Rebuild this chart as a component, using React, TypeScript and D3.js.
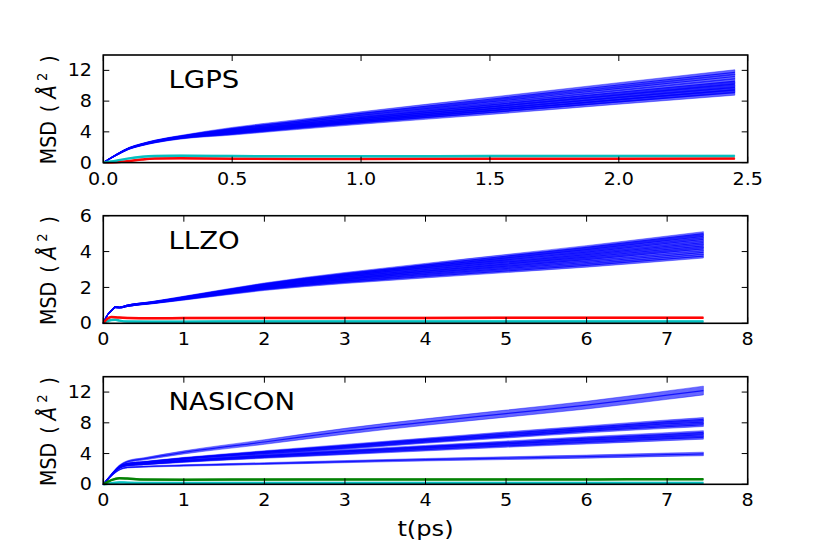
import * as d3 from 'd3';
import React from 'react';

const W = 830;
const H = 554;
const FONT = "'DejaVu Sans', sans-serif";
// the reference was rendered at 800x600 and resized to 830x554, so glyphs are wider than tall
const STRETCH = 1.124;

// ---- LGPS (t up to 2.45 ps) ----
const lgpsTime = [0, 0.05, 0.1, 0.15, 0.2, 0.3, 0.5, 0.75, 1.0, 1.5, 2.0, 2.45];
const lgpsLi = [
  [0, 1.05, 1.9, 2.4, 2.8, 3.4, 4.41, 5.38, 6.4, 8.24, 10.1, 11.75],
  [0, 1.02, 1.88, 2.38, 2.78, 3.36, 4.28, 5.2, 6.16, 7.89, 9.65, 11.2],
  [0, 1.0, 1.86, 2.36, 2.76, 3.32, 4.13, 5.0, 5.89, 7.5, 9.15, 10.6],
  [0, 1.0, 1.85, 2.35, 2.75, 3.3, 4.03, 4.87, 5.71, 7.24, 8.82, 10.2],
  [0, 0.98, 1.83, 2.33, 2.72, 3.27, 3.93, 4.74, 5.53, 6.98, 8.49, 9.8],
  [0, 0.97, 1.82, 2.31, 2.7, 3.24, 3.84, 4.62, 5.37, 6.75, 8.19, 9.45],
  [0, 0.95, 1.8, 2.3, 2.68, 3.2, 3.75, 4.5, 5.21, 6.52, 7.9, 9.1],
];
const lgpsLiSpread = [0, 0.05, 0.08, 0.1, 0.12, 0.14, 0.17, 0.2, 0.22, 0.26, 0.3, 0.33];
const lgpsCyan = [0, 0.25, 0.55, 0.75, 0.85, 0.9, 0.85, 0.82, 0.82, 0.85, 0.86, 0.87];
const lgpsRed = [0, 0.05, 0.2, 0.4, 0.52, 0.55, 0.5, 0.48, 0.48, 0.5, 0.5, 0.52];
const lgpsHostSpread = [0, 0.03, 0.05, 0.06, 0.07, 0.08, 0.08, 0.08, 0.08, 0.08, 0.08, 0.08];
const lgpsXTicks = [0, 0.5, 1.0, 1.5, 2.0, 2.5];
const lgpsYTicks = [0, 4, 8, 12];

// ---- LLZO (t up to 7.45 ps) ----
const llzoTime = [0, 0.05, 0.1, 0.15, 0.2, 0.3, 0.6, 1, 2, 4, 6, 7.45];
const llzoLi = [
  [0, 0.45, 0.7, 0.9, 0.88, 0.98, 1.12, 1.34, 1.89, 2.61, 3.23, 3.75],
  [0, 0.45, 0.7, 0.9, 0.88, 0.98, 1.13, 1.36, 1.94, 2.72, 3.39, 3.95],
  [0, 0.45, 0.7, 0.9, 0.88, 0.98, 1.14, 1.38, 1.99, 2.82, 3.55, 4.15],
  [0, 0.45, 0.7, 0.9, 0.88, 0.98, 1.15, 1.39, 2.03, 2.91, 3.69, 4.32],
  [0, 0.45, 0.7, 0.9, 0.88, 0.98, 1.15, 1.41, 2.07, 3.0, 3.83, 4.5],
  [0, 0.45, 0.7, 0.9, 0.88, 0.98, 1.16, 1.43, 2.12, 3.1, 3.97, 4.68],
  [0, 0.45, 0.7, 0.9, 0.88, 0.98, 1.17, 1.45, 2.16, 3.18, 4.11, 4.85],
  [0, 0.45, 0.7, 0.9, 0.88, 0.98, 1.17, 1.46, 2.19, 3.26, 4.23, 5.0],
];
const llzoLiSpread = [0, 0.02, 0.03, 0.03, 0.03, 0.04, 0.04, 0.05, 0.06, 0.08, 0.1, 0.11];
const llzoRed = [0, 0.25, 0.35, 0.34, 0.32, 0.3, 0.28, 0.29, 0.3, 0.3, 0.31, 0.31];
const llzoCyan = [0, 0.12, 0.18, 0.2, 0.15, 0.1, 0.09, 0.09, 0.1, 0.1, 0.1, 0.1];
const llzoHostSpread = [0, 0.02, 0.03, 0.03, 0.03, 0.03, 0.04, 0.04, 0.04, 0.04, 0.04, 0.04];
const llzoXTicks = [0, 1, 2, 3, 4, 5, 6, 7, 8];
const llzoYTicks = [0, 2, 4, 6];

// ---- NASICON (t up to 7.45 ps) ----
const nasiconTime = [0, 0.1, 0.2, 0.3, 0.5, 1, 2, 3, 4, 5, 6, 7, 7.45];
const nasiconLiWide = [0, 1.3, 2.4, 2.95, 3.3, 4.15, 5.5, 6.9, 8.1, 9.2, 10.3, 11.6, 12.2];
const nasiconLiWideSpread = [0, 0.05, 0.1, 0.12, 0.15, 0.2, 0.3, 0.38, 0.42, 0.46, 0.5, 0.55, 0.57];
const nasiconLi = [
  [0, 1.2, 2.2, 2.6, 2.8, 3.3, 4.0, 4.7, 5.5, 6.2, 6.9, 7.5, 7.75],
  [0, 1.2, 2.25, 2.65, 2.85, 3.35, 4.15, 4.9, 5.7, 6.4, 7.15, 7.85, 8.1],
  [0, 1.25, 2.3, 2.7, 2.9, 3.4, 4.25, 5.05, 5.85, 6.65, 7.4, 8.15, 8.45],
  [0, 1.15, 2.1, 2.45, 2.6, 2.95, 3.5, 4.0, 4.5, 5.0, 5.45, 5.9, 6.1],
  [0, 1.15, 2.15, 2.5, 2.65, 3.05, 3.65, 4.2, 4.75, 5.25, 5.75, 6.2, 6.45],
  [0, 1.2, 2.2, 2.55, 2.7, 3.1, 3.75, 4.35, 4.9, 5.45, 6.0, 6.5, 6.75],
  [0, 1.1, 1.9, 2.2, 2.3, 2.45, 2.7, 2.95, 3.2, 3.4, 3.6, 3.85, 3.95],
];
const nasiconLiSpread = [0, 0.03, 0.06, 0.08, 0.08, 0.1, 0.12, 0.14, 0.16, 0.18, 0.2, 0.22, 0.23];
const nasiconGreen = [0, 0.55, 0.8, 0.75, 0.62, 0.6, 0.62, 0.63, 0.63, 0.64, 0.64, 0.65, 0.65];
const nasiconCyan = [0, 0.15, 0.25, 0.2, 0.17, 0.16, 0.17, 0.17, 0.18, 0.18, 0.18, 0.18, 0.18];
const nasiconHostSpread = [0, 0.05, 0.08, 0.08, 0.08, 0.08, 0.08, 0.08, 0.08, 0.08, 0.08, 0.08, 0.08];
const nasiconXTicks = [0, 1, 2, 3, 4, 5, 6, 7, 8];
const nasiconYTicks = [0, 4, 8, 12];

type Series = { values: number[]; spread: number[]; color: string; host?: boolean };
type Panel = {
  name: string;
  time: number[];
  xMax: number;
  yMax: number;
  xTicks: number[];
  yTicks: number[];
  xFormat: (v: number) => string;
  series: Series[];
  top: number;
};

const BLUE = '#0000ff';
const CYAN = '#00bfbf';
const RED = '#ff0000';
const GREEN = '#008000';

const panels: Panel[] = [
  {
    name: 'LGPS',
    time: lgpsTime,
    xMax: 2.5,
    yMax: 14,
    xTicks: lgpsXTicks,
    yTicks: lgpsYTicks,
    xFormat: d3.format('.1f'),
    top: 55,
    series: [
      ...lgpsLi.map((v) => ({ values: v, spread: lgpsLiSpread, color: BLUE })),
      { values: lgpsRed, spread: lgpsHostSpread, color: RED, host: true },
      { values: lgpsCyan, spread: lgpsHostSpread, color: CYAN, host: true },
    ],
  },
  {
    name: 'LLZO',
    time: llzoTime,
    xMax: 8,
    yMax: 6,
    xTicks: llzoXTicks,
    yTicks: llzoYTicks,
    xFormat: d3.format('d'),
    top: 215.7,
    series: [
      ...llzoLi.map((v) => ({ values: v, spread: llzoLiSpread, color: BLUE })),
      { values: llzoCyan, spread: llzoHostSpread, color: CYAN, host: true },
      { values: llzoRed, spread: llzoHostSpread, color: RED, host: true },
    ],
  },
  {
    name: 'NASICON',
    time: nasiconTime,
    xMax: 8,
    yMax: 14,
    xTicks: nasiconXTicks,
    yTicks: nasiconYTicks,
    xFormat: d3.format('d'),
    top: 376.7,
    series: [
      { values: nasiconLiWide, spread: nasiconLiWideSpread, color: BLUE },
      ...nasiconLi.map((v) => ({ values: v, spread: nasiconLiSpread, color: BLUE })),
      { values: nasiconCyan, spread: nasiconHostSpread, color: CYAN, host: true },
      { values: nasiconGreen, spread: nasiconHostSpread, color: GREEN, host: true },
    ],
  },
];

const LEFT = 103.3;
const RIGHT = 747.7;
const PANEL_H = 107.6;
const TICK = 6;

// text anchored at (x, y), stretched horizontally like the reference
const sx = (x: number, y: number, extra = '') => `translate(${x},${y}) scale(${STRETCH},1)${extra}`;

const PanelView: React.FC<{ p: Panel }> = ({ p }) => {
  const bottom = p.top + PANEL_H;
  const x = d3.scaleLinear().domain([0, p.xMax]).range([LEFT, RIGHT]);
  const y = d3.scaleLinear().domain([0, p.yMax]).range([bottom, p.top]);
  const idx = d3.range(p.time.length);

  return (
    <g>
      {p.series.map((s, k) => {
        const area = d3
          .area<number>()
          .x((i) => x(p.time[i]))
          .y0((i) => y(Math.max(0, s.values[i] - s.spread[i])))
          .y1((i) => y(s.values[i] + s.spread[i]))
          .curve(d3.curveMonotoneX);
        const line = d3
          .line<number>()
          .x((i) => x(p.time[i]))
          .y((i) => y(s.values[i]))
          .curve(d3.curveMonotoneX);
        return (
          <g key={k}>
            <path
              d={area(idx) || ''}
              fill={s.color}
              fillOpacity={0.6}
              stroke={s.color}
              strokeOpacity={0.5}
              strokeWidth={0.8}
            />
            <path
              d={line(idx) || ''}
              fill="none"
              stroke={s.color}
              strokeOpacity={s.host ? 0.95 : 0.8}
              strokeWidth={s.host ? 2.5 : 1.2}
            />
          </g>
        );
      })}

      {/* ticks on all four sides, pointing inward */}
      {p.xTicks.map((t) => (
        <g key={`xt${t}`}>
          <line x1={x(t)} x2={x(t)} y1={bottom} y2={bottom - TICK} stroke="#000" strokeWidth={1} />
          <line x1={x(t)} x2={x(t)} y1={p.top} y2={p.top + TICK} stroke="#000" strokeWidth={1} />
          <text transform={sx(x(t), bottom + 22)} textAnchor="middle" fontSize={17} fontFamily={FONT}>
            {p.xFormat(t)}
          </text>
        </g>
      ))}
      {p.yTicks.map((t) => (
        <g key={`yt${t}`}>
          <line x1={LEFT} x2={LEFT + TICK} y1={y(t)} y2={y(t)} stroke="#000" strokeWidth={1} />
          <line x1={RIGHT} x2={RIGHT - TICK} y1={y(t)} y2={y(t)} stroke="#000" strokeWidth={1} />
          <text transform={sx(92, y(t))} dy="0.36em" textAnchor="end" fontSize={17} fontFamily={FONT}>
            {t}
          </text>
        </g>
      ))}

      <rect x={LEFT} y={p.top} width={RIGHT - LEFT} height={PANEL_H} fill="none" stroke="#000" strokeWidth={1.6} />

      <text transform={sx(168.5, p.top + 33)} fontSize={24.5} fontFamily={FONT}>
        {p.name}
      </text>

      <text
        transform={sx(55.5, (p.top + bottom) / 2 + 1, ' rotate(-90)')}
        textAnchor="middle"
        fontSize={19}
        fontFamily={FONT}
      >
        MSD
        <tspan dx={9}>(</tspan>
        <tspan dx={6} fontStyle="italic" fontSize={20}>Å</tspan>
        <tspan dx={4} dy={-8} fontSize={13}>2</tspan>
        <tspan dx={10} dy={8}>)</tspan>
      </text>
    </g>
  );
};

export default function App() {
  return (
    <div style={{ position: 'absolute', left: 0, top: 0, width: W, height: H, background: '#fff' }}>
      <svg width={W} height={H} style={{ display: 'block' }}>
        <rect width={W} height={H} fill="#fff" />
        {panels.map((p) => (
          <PanelView key={p.name} p={p} />
        ))}
        <text transform={sx(425.5, 536)} textAnchor="middle" fontSize={21.5} fontFamily={FONT}>
          t(ps)
        </text>
      </svg>
    </div>
  );
}
